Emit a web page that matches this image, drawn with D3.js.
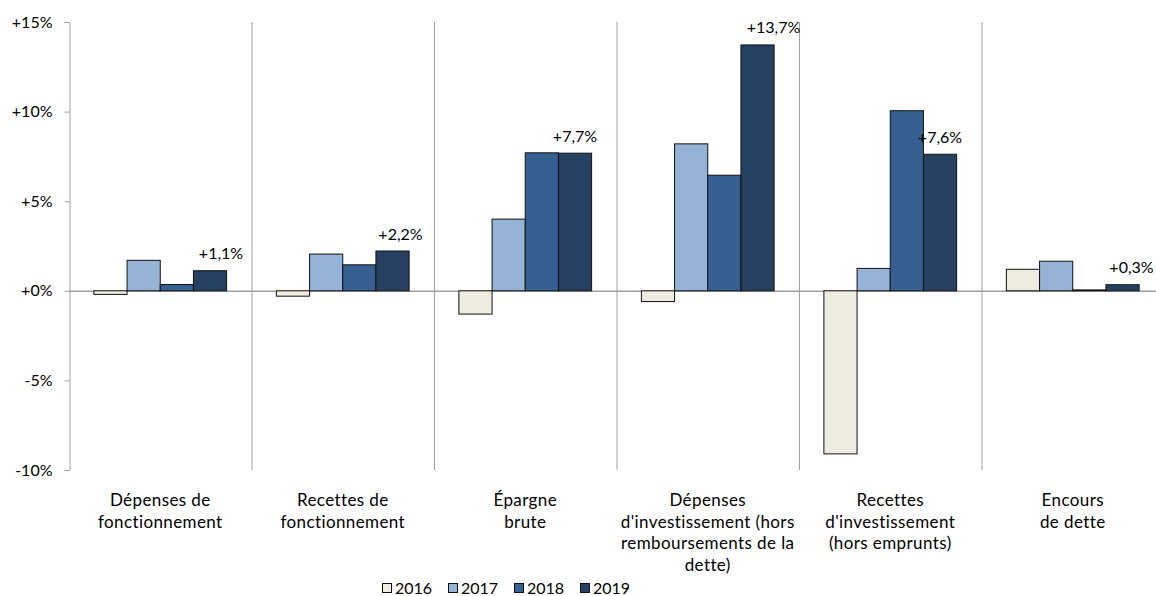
<!DOCTYPE html>
<html>
<head>
<meta charset="utf-8">
<script src="https://cdn.jsdelivr.net/npm/d3@7"></script>
<style>
    body { margin: 0; background: #fff; }
    svg { display: block; font-family: Lato, "Open Sans", sans-serif; }
</style>
</head>
<body>
<div id="chart"></div>
<script>
// categories, one array of lines per label
const categories = [
    ["Dépenses de", "fonctionnement"],
    ["Recettes de", "fonctionnement"],
    ["Épargne", "brute"],
    ["Dépenses", "d'investissement (hors", "remboursements de la", "dette)"],
    ["Recettes", "d'investissement", "(hors emprunts)"],
    ["Encours", "de dette"]
];

const years = ["2016", "2017", "2018", "2019"];

// yearly change in %
const values2016 = [-0.2, -0.3, -1.3, -0.6, -9.1, 1.2];
const values2017 = [1.7, 2.05, 4.0, 8.2, 1.25, 1.65];
const values2018 = [0.35, 1.45, 7.7, 6.45, 10.05, 0.05];
const values2019 = [1.12, 2.22, 7.68, 13.72, 7.62, 0.34];

const yTicks = [-10, -5, 0, 5, 10, 15];

const colors = ["#EEECE1", "#95B3D7", "#366092", "#254061"];
// small horizontal shifts of the value labels, as placed in the original
const labelShift = [11, 8, 0, 16, 0, 9];

const series = [values2016, values2017, values2018, values2019];

const width = 1156, height = 596;
const plot = { left: 69, right: 1164, top: 22, bottom: 470 };

const svg = d3.select("#chart")
    .append("svg")
    .attr("width", width)
    .attr("height", height);

const x0 = d3.scaleBand()
    .domain(d3.range(categories.length))
    .range([plot.left, plot.right]);

const x1 = d3.scaleBand()
    .domain(years)
    .range([0, x0.bandwidth()])
    .paddingOuter(0.75);

const y = d3.scaleLinear()
    .domain([-10, 15])
    .range([plot.bottom, plot.top]);

const gridColor = "#a0a0a0";

// category separators
svg.append("g")
    .selectAll("line")
    .data(d3.range(1, categories.length))
    .enter()
    .append("line")
    .attr("x1", (d) => x0(d) + 0.5)
    .attr("x2", (d) => x0(d) + 0.5)
    .attr("y1", plot.top)
    .attr("y2", plot.bottom)
    .attr("stroke", gridColor)
    .attr("stroke-width", 1);

// y axis
const yAxis = svg.append("g")
    .attr("transform", `translate(${plot.left + 0.5},0)`)
    .call(d3.axisLeft(y)
        .tickValues(yTicks)
        .tickSize(5)
        .tickSizeOuter(0)
        .tickPadding(12)
        .tickFormat((d) => (d >= 0 ? "+" : "") + d + "%"));
yAxis.select(".domain").attr("stroke", gridColor);
yAxis.selectAll(".tick line").attr("stroke", gridColor);
yAxis.selectAll(".tick text")
    .attr("fill", "#000")
    .style("font-size", "16px")
    .style("font-family", "Lato, 'Open Sans', sans-serif");

// zero line
svg.append("line")
    .attr("x1", plot.left)
    .attr("x2", plot.right)
    .attr("y1", y(0) + 0.5)
    .attr("y2", y(0) + 0.5)
    .attr("stroke", gridColor)
    .attr("stroke-width", 1.5);

// bars
const groups = svg.append("g")
    .selectAll("g")
    .data(categories)
    .enter()
    .append("g")
    .attr("transform", (d, i) => `translate(${x0(i)},0)`);

groups.selectAll("rect")
    .data((d, i) => series.map((s, k) => ({ year: years[k], value: s[i], k: k })))
    .enter()
    .append("rect")
    .attr("x", (d) => x1(d.year))
    .attr("width", x1.bandwidth())
    .attr("y", (d) => y(Math.max(0, d.value)))
    .attr("height", (d) => Math.abs(y(d.value) - y(0)))
    .attr("fill", (d) => colors[d.k])
    .attr("stroke", "#111")
    .attr("stroke-width", 1);

// value labels on 2019 bars
const frFormat = (v) => "+" + d3.format(".1f")(v).replace(".", ",") + "%";
svg.append("g")
    .selectAll("text")
    .data(values2019)
    .enter()
    .append("text")
    .attr("x", (d, i) => x0(i) + x1("2019") + x1.bandwidth() / 2 + labelShift[i])
    .attr("y", (d) => y(d) - 11.5)
    .attr("text-anchor", "middle")
    .style("font-size", "16px")
    .text((d) => frFormat(d));

// category labels
const catLabels = svg.append("g")
    .selectAll("text")
    .data(categories)
    .enter()
    .append("text")
    .attr("text-anchor", "middle")
    .style("font-size", "17px")
    .style("letter-spacing", "0.4px")
    .attr("x", (d, i) => x0(i) + x0.bandwidth() / 2)
    .attr("y", 506);

catLabels.selectAll("tspan")
    .data((d) => d)
    .enter()
    .append("tspan")
    .attr("x", function () { return d3.select(this.parentNode).attr("x"); })
    .attr("dy", (d, j) => j === 0 ? 0 : 21.7)
    .text((d) => d);

// legend
const legend = svg.append("g")
    .selectAll("g")
    .data(years)
    .enter()
    .append("g")
    .attr("transform", (d, i) => `translate(${382 + i * 66},0)`);

legend.append("rect")
    .attr("x", 0.5)
    .attr("y", 583.5)
    .attr("width", 9)
    .attr("height", 9)
    .attr("fill", (d, i) => colors[i])
    .attr("stroke", "#111")
    .attr("stroke-width", 1);

legend.append("text")
    .attr("x", 13)
    .attr("y", 593.5)
    .style("font-size", "16px")
    .text((d) => d);
</script>
</body>
</html>
